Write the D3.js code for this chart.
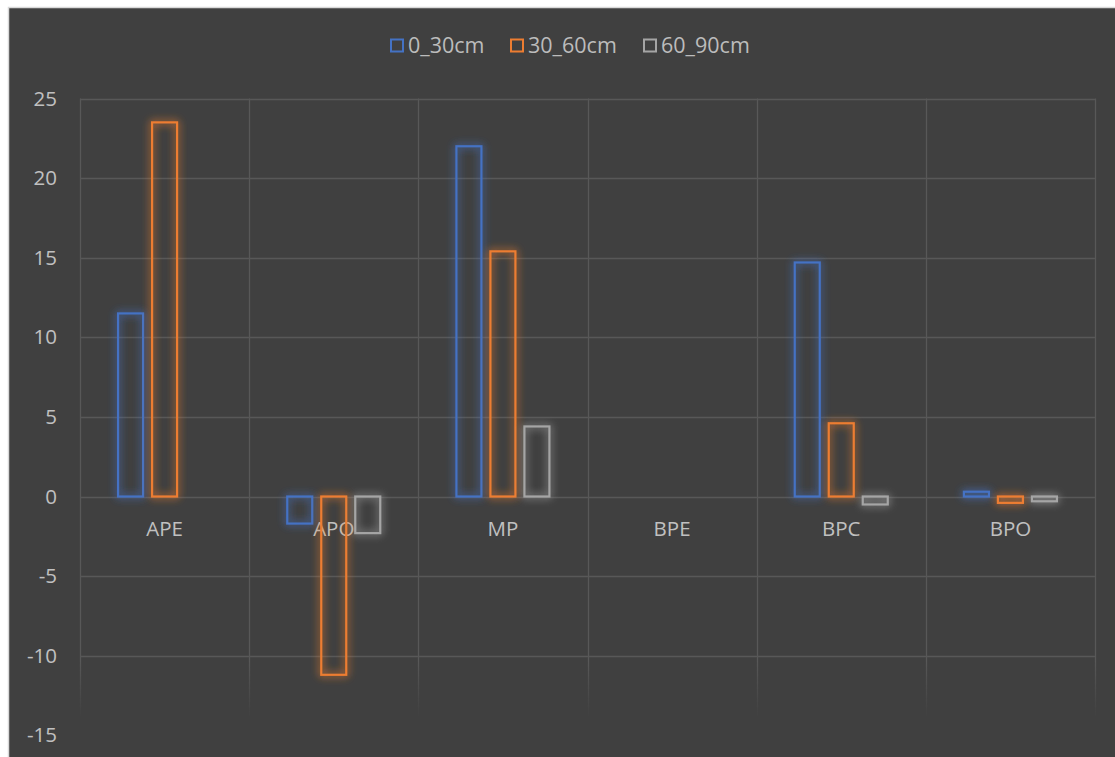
<!DOCTYPE html>
<html>
<head>
<meta charset="utf-8">
<script src="https://cdn.jsdelivr.net/npm/d3@7"></script>
<style>
  html, body { margin: 0; padding: 0; background: #ffffff; }
  svg { display: block; }
  text { font-family: "Open Sans", Lato, sans-serif; }
</style>
</head>
<body>
<svg id="chart" width="1115" height="757"></svg>
<script>
// Categories and series
const categories = ["APE", "APO", "MP", "BPE", "BPC", "BPO"];
const seriesNames = ["0_30cm", "30_60cm", "60_90cm"];
const seriesColors = ["#4472c4", "#ed7d31", "#a5a5a5"];
const depth0_30 = [11.5, -1.7, 22.0, null, 14.7, 0.3];
const depth30_60 = [23.5, -11.2, 15.4, null, 4.6, -0.4];
const depth60_90 = [null, -2.3, 4.4, null, -0.5, -0.3];
const yTicks = [-15, -10, -5, 0, 5, 10, 15, 20, 25];

const seriesValues = [depth0_30, depth30_60, depth60_90];

const svg = d3.select("#chart");
const W = 1115, H = 757;
const plot = { left: 80, right: 1095, top: 98, bottom: 716 };
const labelColor = "#c0c0c0";

const defs = svg.append("defs");

// soft outer glow per series
seriesColors.forEach((c, i) => {
  const f = defs.append("filter").attr("id", "glow" + i)
    .attr("x", "-80%").attr("y", "-80%").attr("width", "260%").attr("height", "260%");
  f.append("feGaussianBlur").attr("in", "SourceGraphic").attr("stdDeviation", 4.2).attr("result", "b");
  f.append("feComponentTransfer").attr("in", "b").attr("result", "b2")
    .append("feFuncA").attr("type", "linear").attr("slope", 1.3);
  const m = f.append("feMerge");
  m.append("feMergeNode").attr("in", "b2");
  m.append("feMergeNode").attr("in", "SourceGraphic");
});

// gridlines fade out towards the bottom of the plot
const grad = defs.append("linearGradient").attr("id", "fadeGrad")
  .attr("gradientUnits", "userSpaceOnUse")
  .attr("x1", 0).attr("y1", 0).attr("x2", 0).attr("y2", H);
grad.append("stop").attr("offset", 660 / H).attr("stop-color", "#fff");
grad.append("stop").attr("offset", 718 / H).attr("stop-color", "#000");
defs.append("mask").attr("id", "fadeMask")
  .append("rect").attr("x", 0).attr("y", 0).attr("width", W).attr("height", H)
  .attr("fill", "url(#fadeGrad)");

// chart background with light border
svg.append("rect")
  .attr("x", 8.5).attr("y", 7.5).attr("width", 1200).attr("height", 800)
  .attr("fill", "#404040").attr("stroke", "#d9d9d9").attr("stroke-width", 1.5);

const x = d3.scaleBand().domain(categories).range([plot.left, plot.right]).padding(0);
const y = d3.scaleLinear().domain([-15, 25]).range([496.5 + 15 * 15.92, 496.5 - 25 * 15.92]);

const grid = svg.append("g").attr("mask", "url(#fadeMask)");

// horizontal value gridlines
grid.selectAll("line.h").data(yTicks).join("line")
  .attr("class", "h")
  .attr("x1", plot.left).attr("x2", plot.right)
  .attr("y1", d => Math.round(y(d)) + 0.5).attr("y2", d => Math.round(y(d)) + 0.5)
  .attr("stroke", "#585858").attr("stroke-width", 1.3);

// vertical category gridlines
const bounds = categories.map(c => x(c)).concat([plot.right]);
grid.selectAll("line.v").data(bounds).join("line")
  .attr("class", "v")
  .attr("x1", d => Math.round(d) + 0.5).attr("x2", d => Math.round(d) + 0.5)
  .attr("y1", y(25)).attr("y2", plot.bottom)
  .attr("stroke", "#585858").attr("stroke-width", 1.3);

// y axis tick labels (plain hyphen for negatives)
const yAxis = d3.axisLeft(y).tickValues(yTicks).tickSize(0).tickPadding(0)
  .tickFormat(d => String(d));
const ya = svg.append("g").attr("transform", "translate(57,0)").call(yAxis);
ya.select(".domain").remove();
ya.selectAll("text").attr("fill", labelColor).style("font-size", "20.5px")
  .style("font-family", "'Open Sans', Lato, sans-serif");

// category labels
svg.append("g").selectAll("text").data(categories).join("text")
  .attr("x", d => x(d) + x.bandwidth() / 2)
  .attr("y", 536)
  .attr("text-anchor", "middle")
  .attr("fill", labelColor)
  .style("font-size", "20.5px")
  .text(d => d);

// bars
const barW = 25, step = 34;
seriesValues.forEach((vals, si) => {
  const g = svg.append("g").attr("filter", `url(#glow${si})`);
  const data = categories.map((c, i) => ({ c, v: vals[i] })).filter(d => d.v !== null);
  g.selectAll("rect").data(data).join("rect")
    .attr("x", d => x(d.c) + x.bandwidth() / 2 + (si - 1) * step - barW / 2)
    .attr("y", d => Math.min(y(d.v), y(0)))
    .attr("width", barW)
    .attr("height", d => Math.abs(y(d.v) - y(0)))
    .attr("fill", "none")
    .attr("stroke", seriesColors[si])
    .attr("stroke-width", 2.2);
});

// legend
const legendItems = [
  { name: seriesNames[0], color: seriesColors[0], x: 390 },
  { name: seriesNames[1], color: seriesColors[1], x: 510 },
  { name: seriesNames[2], color: seriesColors[2], x: 643 }
];
const lg = svg.append("g");
legendItems.forEach(it => {
  lg.append("rect")
    .attr("x", it.x + 1).attr("y", 39.5).attr("width", 12).attr("height", 12)
    .attr("fill", "none").attr("stroke", it.color).attr("stroke-width", 2);
  lg.append("text")
    .attr("x", it.x + 18).attr("y", 53)
    .attr("fill", "#bcbcbc").style("font-size", "21.5px")
    .text(it.name);
});
</script>
</body>
</html>
